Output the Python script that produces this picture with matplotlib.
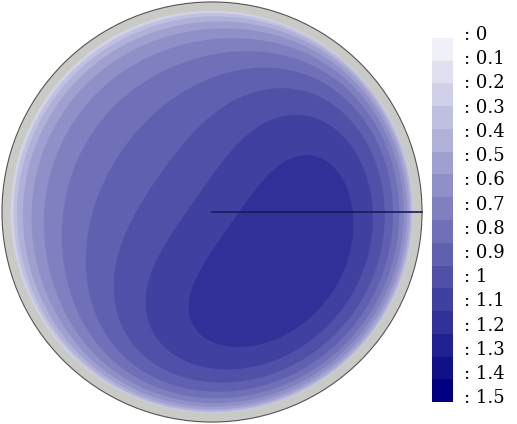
import numpy as np
import matplotlib.pyplot as plt
from matplotlib.colors import ListedColormap, to_rgb
from matplotlib.patches import Wedge, Circle

# contour levels as listed in the legend
levels = [0, 0.1, 0.2, 0.3, 0.4, 0.5, 0.6, 0.7, 0.8, 0.9, 1.0, 1.1, 1.2, 1.3, 1.4, 1.5]
level_labels = ["0", "0.1", "0.2", "0.3", "0.4", "0.5", "0.6", "0.7",
                "0.8", "0.9", "1", "1.1", "1.2", "1.3", "1.4", "1.5"]

# lightest and darkest band colour
low_color = "#f0f0f8"
high_color = "#000080"

# velocity profile
wall_pow = 4         # (1 - r^wall_pow)^wall_exp near the pipe wall
wall_exp = 0.39
skew_angle = -35     # direction of the fast side, degrees
slow_value = 0.85    # core value on the slow (upper left) side
fast_value = 1.38    # core value on the fast (lower right) side
skew_mid = -0.07
skew_width = 0.55

# band colours, white -> navy
lo = np.array(to_rgb(low_color))
hi = np.array(to_rgb(high_color))
n_bands = len(levels)
band_colors = [tuple(lo + (hi - lo) * i / (n_bands - 1)) for i in range(n_bands)]
bounds = levels + [levels[-1] + 0.1]

# polar grid, refined close to the wall
r = np.concatenate([np.linspace(0, 0.9, 180, endpoint=False),
                    1 - np.geomspace(0.1, 1e-4, 120), [1.0]])
th = np.linspace(0, 2 * np.pi, 721)
R, TH = np.meshgrid(r, th)
X = R * np.cos(TH)
Y = R * np.sin(TH)

a = np.deg2rad(skew_angle)
S = X * np.cos(a) + Y * np.sin(a)
G = slow_value + (fast_value - slow_value) * (1 + np.tanh((S - skew_mid) / skew_width)) / 2
U = np.clip(1 - R**wall_pow, 0, None) ** wall_exp * G

fig = plt.figure(figsize=(5.17, 4.24), dpi=100)
ax = fig.add_axes([0, 0, 424 / 517, 1])
lim = 212 / 201
ax.set_xlim(-lim, lim)
ax.set_ylim(-lim, lim)
ax.set_aspect("equal")
ax.axis("off")

cs = ax.contourf(X, Y, U, levels=bounds, colors=band_colors, antialiased=True)
cs.set_edgecolor("face")

# grey pipe wall
ax.add_patch(Wedge((0, 0), 1.045, 0, 360, width=0.045, facecolor="#c9c9c5", edgecolor="none"))
ax.add_patch(Circle((0, 0), 1.045, fill=False, edgecolor="#555555", lw=0.8))

# radial line from the centre to the right
ax.plot([0, 1.045], [0, 0], color="#1a1a5a", lw=1.2)

# legend bar
cax = fig.add_axes([432 / 517, 22 / 424, 21 / 517, 364 / 424])
cax.pcolormesh([0, 1], np.arange(n_bands + 1), np.arange(n_bands).reshape(-1, 1),
               cmap=ListedColormap(band_colors), vmin=-0.5, vmax=n_bands - 0.5)
cax.set_ylim(n_bands, 0)
cax.axis("off")
for i, lab in enumerate(level_labels):
    cax.text(1.5, 1.008 - i * 0.0665, ": " + lab, transform=cax.transAxes,
             va="center", ha="left", fontsize=13, family="DejaVu Serif")

fig.savefig("out.png", dpi=100)
